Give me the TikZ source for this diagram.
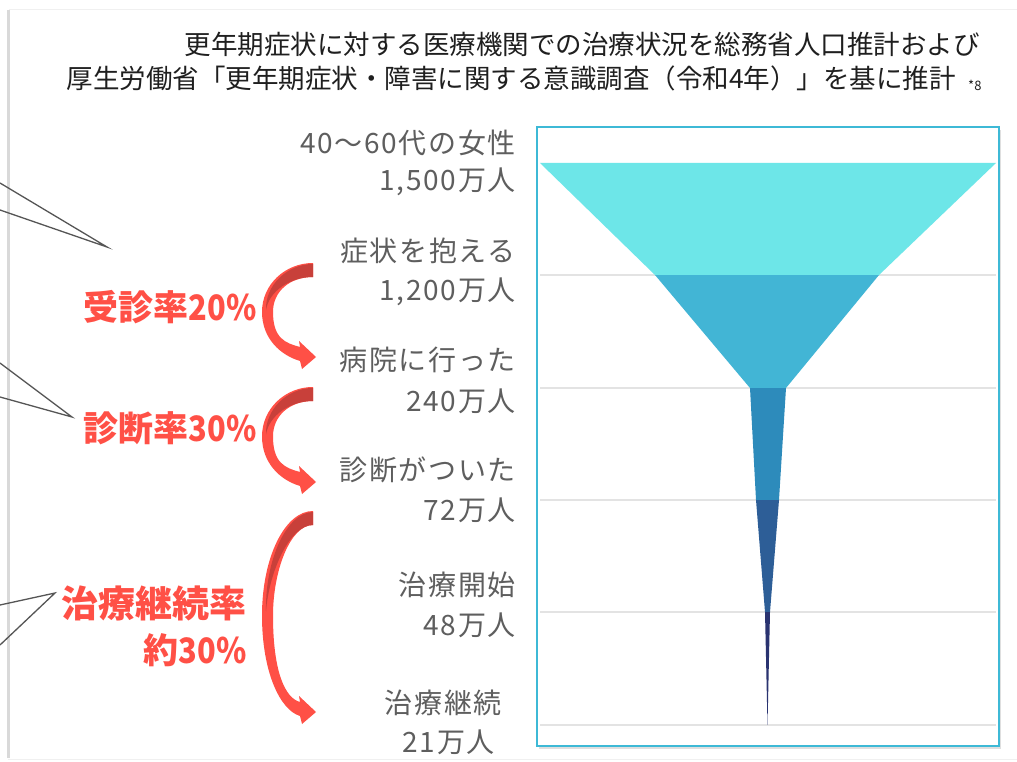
\documentclass[tikz,border=0pt]{standalone}
\usepackage{fontspec}
\setmainfont{Noto Sans CJK JP}
\newfontfamily\lblfont[LetterSpace=6.0]{Noto Sans CJK JP}
\newfontfamily\rednum[FakeStretch=0.88]{Noto Sans CJK JP}
\usetikzlibrary{shadows}
\definecolor{titlec}{HTML}{1F1F1F}
\definecolor{lblc}{HTML}{5E5E5E}
\definecolor{redc}{HTML}{FF5046}
\definecolor{redd}{HTML}{C8403A}
\definecolor{boxc}{HTML}{3DB9D6}
\definecolor{gridc}{HTML}{E3E3E3}
\definecolor{fa}{HTML}{6DE6E8}
\definecolor{fb}{HTML}{42B5D5}
\definecolor{fc}{HTML}{2D8BBB}
\definecolor{fd}{HTML}{2D5E97}
\definecolor{fe}{HTML}{2A3370}
\definecolor{calloutc}{HTML}{555555}
\newcommand\bentarrow[2]{%
  \pgfmathsetmacro\hh{#2-#1}%
  \fill[redc] (313,#1) .. controls (285,#1) and (262,{#1+0.23*\hh}) .. (262,{#1+0.52*\hh})
    .. controls (262,{#1+0.8*\hh}) and (280,{#2-2}) .. (300,{#2+4})
    -- (302,{#2+12}) -- (316,#2) -- (299,{#2-16}) -- (300,{#2-10})
    .. controls (285,{#2-14}) and (273,{#1+0.8*\hh}) .. (273,{#1+0.52*\hh})
    .. controls (273,{#1+0.3*\hh}) and (290,{#1+14}) .. (313,{#1+14}) -- cycle;
  \fill[redd] (313,{#1+1}) .. controls (287,{#1+1}) and (265,{#1+0.24*\hh}) .. (266,{#1+0.5*\hh})
    .. controls (269,{#1+0.3*\hh}) and (290,{#1+14}) .. (313,{#1+14}) -- cycle;
}
\tikzset{
  titletext/.style={inner sep=0pt, anchor=east, text=titlec, font=\fontsize{26.5}{30}\selectfont},
  lbl/.style={inner sep=0pt, anchor=east, text=lblc, font=\lblfont\fontsize{28}{32}\selectfont},
  redlbl/.style={inner sep=0pt, anchor=east, text=redc, font=\bfseries\fontsize{35}{38}\selectfont},
  callout/.style={draw=calloutc, line width=1.3pt},
  gridline/.style={draw=gridc, line width=1.5pt}
}
\begin{document}
\begin{tikzpicture}[x=1pt,y=-1pt]
\useasboundingbox (0,0) rectangle (1017,762);
\fill[white] (0,0) rectangle (1017,762);
% slide edges
\draw[gray!12, line width=1pt] (9,10) -- (1017,10);
\draw[gray!30, line width=3pt] (8.5,10) -- (8.5,758);
\draw[gray!12, line width=1pt] (8,759) -- (1017,759);
% title
\node[titletext] (t1) at (980,44) {更年期症状に対する医療機関での治療状況を総務省人口推計および};
\node[titletext] (t2) at (956,78) {厚生労働省「更年期症状・障害に関する意識調査（令和4年）」を基に推計};
\node[inner sep=0pt, anchor=base west, text=titlec, font=\fontsize{13}{15}\selectfont] (t3) at ([xshift=12pt, yshift=-2pt]t2.base east) {*8};
% chart box
\node[draw=boxc, line width=2pt, fill=white, minimum width=462pt, minimum height=619pt, inner sep=0pt,
  drop shadow={shadow xshift=2pt, shadow yshift=-3pt, opacity=0.25, fill=gray}] (box) at (768,436.5) {};
% grid
\foreach \yy in {275,388,500,612,725} \draw[gridline] (540,\yy) -- (996,\yy);
% funnel
\fill[fa] (540,163) -- (996,163) -- (879,275) -- (655,275) -- cycle;
\fill[fb] (655,275) -- (879,275) -- (786,388) -- (750,388) -- cycle;
\fill[fc] (750,388) -- (786,388) -- (779,500) -- (756,500) -- cycle;
\fill[fd] (756,500) -- (779,500) -- (770,612) -- (765,612) -- cycle;
\fill[fe] (765,612) -- (770,612) -- (767.5,725) -- cycle;
% labels
\node[lbl] (l1a) at (516,143) {40～60代の女性};
\node[lbl] (l1b) at (516,182) {1,500万人};
\node[lbl] (l2a) at (516,251) {症状を抱える};
\node[lbl] (l2b) at (516,292) {1,200万人};
\node[lbl] (l3a) at (516,360) {病院に行った};
\node[lbl] (l3b) at (516,401) {240万人};
\node[lbl] (l4a) at (516,470) {診断がついた};
\node[lbl] (l4b) at (516,510) {72万人};
\node[lbl] (l5a) at (516,585) {治療開始};
\node[lbl] (l5b) at (516,625) {48万人};
\node[lbl] (l6a) at (502,703) {治療継続};
\node[lbl] (l6b) at (495,742) {21万人};
% red labels
\node[redlbl] (r1) at (257,307) {受診率{\rednum 20\%}};
\node[redlbl] (r2) at (257,428) {診断率{\rednum 30\%}};
\node[redlbl, font=\bfseries\fontsize{37}{40}\selectfont] (r3) at (247,603) {治療継続率};
\node[redlbl] (r4) at (247,650) {約{\rednum 30\%}};
% bent arrows
\bentarrow{263}{357}
\bentarrow{387}{482}
\bentarrow{511}{712}
% callout lines
\coordinate (c1a) at (0,183); \coordinate (c1b) at (0,210); \coordinate (c1t) at (107,247);
\coordinate (c2a) at (0,363); \coordinate (c2b) at (0,397); \coordinate (c2t) at (72,417);
\coordinate (c3a) at (0,605); \coordinate (c3b) at (0,645); \coordinate (c3t) at (55,593);
\draw[callout] (c1a) -- (c1t) -- (c1b);
\draw[callout] (c2a) -- (c2t) -- (c2b);
\draw[callout] (c3a) -- (c3t) -- (c3b);
\end{tikzpicture}
\end{document}
